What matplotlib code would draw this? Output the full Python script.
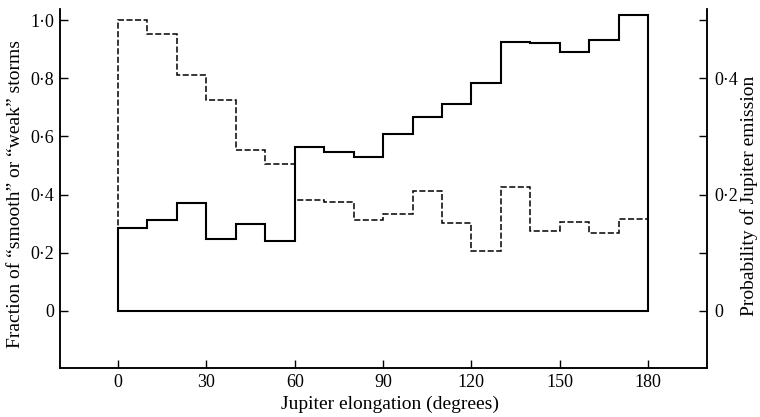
import matplotlib
matplotlib.use("Agg")
import matplotlib.pyplot as plt
from matplotlib.ticker import FuncFormatter, FixedLocator

# Bin edges (degrees of Jupiter elongation)
bin_edges = list(range(0, 190, 10))

# Fraction of "smooth" or "weak" storms (left axis, dashed)
fraction_smooth_weak = [1.00, 0.951, 0.810, 0.724, 0.552, 0.504, 0.383, 0.373, 0.314,
                        0.333, 0.413, 0.303, 0.205, 0.427, 0.276, 0.307, 0.267, 0.317]

# Probability of Jupiter emission (right axis, solid)
prob_jupiter = [0.142, 0.157, 0.185, 0.124, 0.149, 0.121, 0.281, 0.274, 0.264,
                0.305, 0.333, 0.356, 0.392, 0.463, 0.460, 0.445, 0.466, 0.509]

x_ticks = [0, 30, 60, 90, 120, 150, 180]
left_ticks = [0, 0.2, 0.4, 0.6, 0.8, 1.0]
right_ticks = [0, 0.2, 0.4]
right_minor = [0.1, 0.3, 0.5]

plt.rcParams['font.family'] = ['Liberation Serif', 'DejaVu Serif']

W, H = 760, 417
fig = plt.figure(figsize=(W/100, H/100), dpi=100)
ax = fig.add_axes([60/W, 1-368/H, (707-60)/W, (368-9)/H])
ax2 = ax.twinx()

ylo, yhi = -0.196, 1.038
ax.set_xlim(-19.7, 200)
ax.set_ylim(ylo, yhi)
ax2.set_ylim(ylo/2, yhi/2)

ax.stairs(fraction_smooth_weak, bin_edges, baseline=0, fill=False,
          color='black', lw=1.1, linestyle=(0, (4, 1.6)))
ax2.stairs(prob_jupiter, bin_edges, baseline=0, fill=False,
           color='black', lw=1.5)
ax2.plot([bin_edges[0], bin_edges[-1]], [0, 0], color='black', lw=1.5)

dot = FuncFormatter(lambda v, p: ('0' if abs(v) < 1e-9 else f"{v:.1f}".replace('.', '\u00b7')))
ax.yaxis.set_major_locator(FixedLocator(left_ticks))
ax.yaxis.set_major_formatter(dot)
ax.xaxis.set_major_locator(FixedLocator(x_ticks))
ax2.yaxis.set_major_locator(FixedLocator(right_ticks))
ax2.yaxis.set_minor_locator(FixedLocator(right_minor))
ax2.yaxis.set_major_formatter(dot)

for a in (ax, ax2):
    a.spines['top'].set_visible(False)
    for s in a.spines.values():
        s.set_linewidth(1.1)

ax.tick_params(axis='both', which='major', direction='in', length=6, width=1.0,
               labelsize=13, pad=4)
ax.tick_params(axis='x', pad=4)
ax2.tick_params(axis='y', which='both', direction='in', length=6, width=1.0,
                labelsize=13, pad=5)

fig.text(390/W, 1-404/H, 'Jupiter elongation (degrees)', fontsize=14,
         ha='center', va='center')
fig.text(16/W, 1-194/H, 'Fraction of \u201csmooth\u201d or \u201cweak\u201d storms',
         fontsize=14, rotation=90, ha='center', va='center')
fig.text(749/W, 1-196/H, 'Probability of Jupiter emission', fontsize=14,
         rotation=90, ha='center', va='center')

fig.savefig('out.png', dpi=100)
